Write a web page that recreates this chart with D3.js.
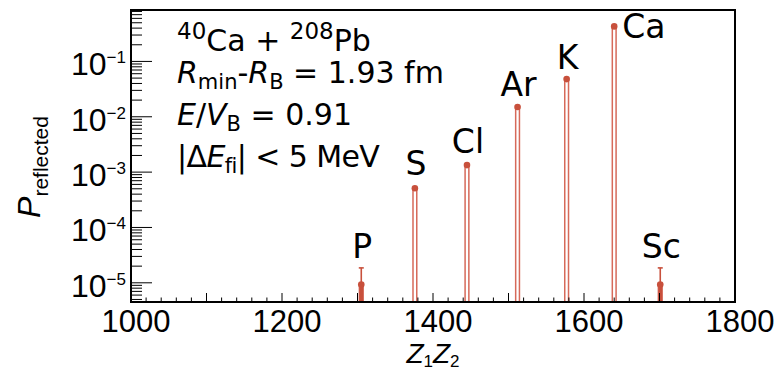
<!DOCTYPE html>
<html>
<head>
<meta charset="utf-8">
<script src="https://cdn.jsdelivr.net/npm/d3@7"></script>
<style>
  html, body { margin: 0; padding: 0; background: #fff; }
  svg { display: block; }
</style>
</head>
<body>
<svg id="chart" width="780" height="373"></svg>
<script>
// ---- data ----
const elements = ["P", "S", "Cl", "Ar", "K", "Ca", "Sc"];
const z1z2 = [1305, 1376, 1445, 1512, 1577, 1640, 1701];
const pReflected = [9.3e-6, 5.1e-4, 1.34e-3, 1.5e-2, 4.8e-2, 0.43, 9.3e-6];
const pError = [9.3e-6, 6.9e-5, 1.1e-4, 3.7e-4, 6.7e-4, 2.0e-3, 9.3e-6];
const xTickLabels = [1000, 1200, 1400, 1600, 1800];
const yTickExponents = [-1, -2, -3, -4, -5];
const xDomain = [1000, 1800];
const yDomain = [4.5e-6, 0.85];
const binWidth = 5;

// ---- layout ----
const svg = d3.select("#chart");
const L = 131, R = 735, T = 10, B = 302;
const x = d3.scaleLinear().domain(xDomain).range([L, R]);
const y = d3.scaleLog().domain(yDomain).range([B, T]);
const axisFont = "'Liberation Sans', Arial, Helvetica, sans-serif";
const textFont = "'DejaVu Sans', Verdana, sans-serif";
const red = "#d66a5a";
const redDark = "#c8503c";

// histogram outline
const clipY = v => Math.max(T, Math.min(B, y(v)));
let pathD = `M${L},${B}`;
const order = d3.range(elements.length).sort((a, b) => z1z2[a] - z1z2[b]);
order.forEach(i => {
  const x0 = x(z1z2[i] - binWidth / 2), x1 = x(z1z2[i] + binWidth / 2);
  const yt = clipY(pReflected[i]);
  pathD += `L${x0},${B}L${x0},${yt}L${x1},${yt}L${x1},${B}`;
});
pathD += `L${R},${B}`;
svg.append("path").attr("d", pathD).attr("fill", "none")
  .attr("stroke", red).attr("stroke-width", 1.5);

// error bars + markers
const g = svg.append("g");
elements.forEach((el, i) => {
  const cx = x(z1z2[i]);
  const lo = pReflected[i] - pError[i];
  const yLo = lo > yDomain[0] ? y(lo) : B;
  const yHi = y(pReflected[i] + pError[i]);
  if (yLo - yHi > 8) {
    g.append("line").attr("x1", cx).attr("x2", cx).attr("y1", yLo).attr("y2", yHi)
      .attr("stroke", redDark).attr("stroke-width", 1.6);
    g.append("line").attr("x1", cx - 2.5).attr("x2", cx + 2.5).attr("y1", yHi).attr("y2", yHi)
      .attr("stroke", redDark).attr("stroke-width", 1.6);
    g.append("rect").attr("x", x(z1z2[i] - binWidth / 2)).attr("y", y(pReflected[i]))
      .attr("width", x(z1z2[i] + binWidth / 2) - x(z1z2[i] - binWidth / 2))
      .attr("height", B - y(pReflected[i])).attr("fill", redDark);
  }
  g.append("circle").attr("cx", cx).attr("cy", y(pReflected[i])).attr("r", 3.3)
    .attr("fill", redDark);
});

// element labels
elements.forEach((el, i) => {
  const cx = x(z1z2[i]);
  const top = y(pReflected[i] + pError[i]);
  const t = svg.append("text").attr("font-family", textFont).attr("font-size", 33)
    .attr("fill", "#000").text(el);
  if (el === "Ca") {
    t.attr("x", cx + 8).attr("y", top + 12).attr("text-anchor", "start");
  } else {
    t.attr("x", cx + 1).attr("y", top - 10).attr("text-anchor", "middle");
  }
});

// x axis ticks (inside, pointing up)
const xt = svg.append("g").attr("stroke", "#000").attr("stroke-width", 1);
d3.range(xDomain[0], xDomain[1] + 1, 20).forEach(v => {
  const len = (v % 100 === 0) ? 9 : 4.5;
  xt.append("line").attr("x1", x(v)).attr("x2", x(v)).attr("y1", B).attr("y2", B - len);
});
xTickLabels.forEach(v => {
  svg.append("text").attr("x", x(v) + 5).attr("y", 332).attr("text-anchor", "middle")
    .attr("font-family", axisFont).attr("font-size", 31).text(v);
});

// y axis ticks (inside, pointing right)
const yt = svg.append("g").attr("stroke", "#000").attr("stroke-width", 1);
for (let e = -6; e <= 0; e++) {
  for (let m = 1; m <= 9; m++) {
    const v = m * Math.pow(10, e);
    if (v < yDomain[0] || v > yDomain[1]) continue;
    const len = m === 1 ? 21 : 11;
    yt.append("line").attr("x1", L).attr("x2", L + len).attr("y1", y(v)).attr("y2", y(v));
  }
}
yTickExponents.forEach(e => {
  const t = svg.append("text").attr("x", 126).attr("y", y(Math.pow(10, e)) + 14)
    .attr("text-anchor", "end").attr("font-family", axisFont).attr("font-size", 32);
  t.append("tspan").text("10");
  t.append("tspan").attr("font-size", 17).attr("dy", -12).text("\u2212" + Math.abs(e));
});

// frame
svg.append("rect").attr("x", L).attr("y", T).attr("width", R - L).attr("height", B - T)
  .attr("fill", "none").attr("stroke", "#000").attr("stroke-width", 2);

// axis titles
const xt2 = svg.append("text").attr("x", (L + R) / 2).attr("y", 363).attr("text-anchor", "middle")
  .attr("font-family", axisFont).attr("font-size", 28);
xt2.append("tspan").attr("font-style", "italic").text("Z");
xt2.append("tspan").attr("font-size", 17).attr("dy", 4).text("1");
xt2.append("tspan").attr("font-style", "italic").attr("dy", -4).text("Z");
xt2.append("tspan").attr("font-size", 17).attr("dy", 4).text("2");

const ytl = svg.append("text").attr("transform", "translate(40,167) rotate(-90)")
  .attr("text-anchor", "middle").attr("font-family", axisFont).attr("font-size", 32);
ytl.append("tspan").attr("font-style", "italic").text("P");
ytl.append("tspan").attr("font-size", 21).attr("dy", 8).text("reflected");

// annotation
const ax = 177, fs = 30, sub = 21, sup = 23;
const l1 = svg.append("text").attr("x", ax).attr("y", 51).attr("font-family", textFont).attr("font-size", fs);
l1.append("tspan").attr("font-size", sup).attr("dy", -12).text("40");
l1.append("tspan").attr("dy", 12).text("Ca + ");
l1.append("tspan").attr("font-size", sup).attr("dy", -12).text("208");
l1.append("tspan").attr("dy", 12).text("Pb");

const l2 = svg.append("text").attr("x", ax).attr("y", 83).attr("font-family", textFont).attr("font-size", fs);
l2.append("tspan").attr("font-style", "italic").text("R");
l2.append("tspan").attr("font-size", sub).attr("dy", 6).text("min");
l2.append("tspan").attr("dy", -6).text("-");
l2.append("tspan").attr("font-style", "italic").text("R");
l2.append("tspan").attr("font-size", sub).attr("dy", 6).text("B");
l2.append("tspan").attr("dy", -6).text(" = 1.93 fm");

const l3 = svg.append("text").attr("x", ax).attr("y", 125).attr("font-family", textFont).attr("font-size", fs);
l3.append("tspan").attr("font-style", "italic").text("E");
l3.append("tspan").text("/");
l3.append("tspan").attr("font-style", "italic").text("V");
l3.append("tspan").attr("font-size", sub).attr("dy", 6).text("B");
l3.append("tspan").attr("dy", -6).text(" = 0.91");

const l4 = svg.append("text").attr("x", ax).attr("y", 167).attr("font-family", textFont).attr("font-size", fs)
  .attr("letter-spacing", -0.6);
l4.append("tspan").text("|\u0394");
l4.append("tspan").attr("font-style", "italic").text("E");
l4.append("tspan").attr("font-size", sub).attr("dy", 6).text("fi");
l4.append("tspan").attr("dy", -6).text("| < 5 MeV");
</script>
</body>
</html>
